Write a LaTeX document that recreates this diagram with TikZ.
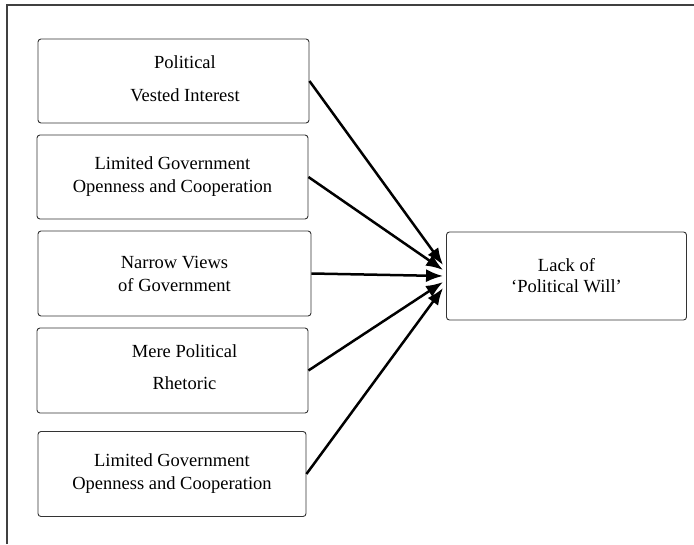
\documentclass[tikz,border=0pt]{standalone}
\usepackage{fontspec}
\setmainfont{Liberation Serif}
\usetikzlibrary{arrows.meta}
\begin{document}
\begin{tikzpicture}[x=1pt,y=-1pt,
  frameline/.style={draw=black!75,line width=1.6pt},
  causebox/.style={draw=black!80,line width=0.9pt,rounded corners=3pt,
    minimum width=271pt,minimum height=84pt,inner sep=0pt,align=center,
    font=\fontsize{18.5}{23}\selectfont},
  boxtext/.style={inner sep=0pt,align=center,font=\fontsize{18.5}{23}\selectfont},
  arr/.style={line width=2.5pt,-{Latex[length=17pt,width=13pt]}}]
\useasboundingbox (0,0) rectangle (694,544);
% open frame: top and left sides only
\draw[frameline] (7,544) -- (7,5) -- (694,5);
% cause boxes
\node[causebox] (b1) at (173.5,81) {};
\node[boxtext] (b1t) at (185,79) {Political\\[10pt]Vested Interest};
\node[causebox] (b2) at (172.5,177) {Limited Government\\Openness and Cooperation};
\node[causebox,minimum width=273pt,minimum height=85pt] (b3) at (174.5,273.5) {Narrow Views\\of Government};
\node[causebox,minimum height=85pt] (b4) at (172.5,370.5) {};
\node[boxtext] (b4t) at (184.5,367) {Mere Political\\[9pt]Rhetoric};
\node[causebox,minimum width=268pt,minimum height=85pt] (b5) at (172,474) {Limited Government\\Openness and Cooperation};
% effect box
\node[causebox,minimum width=240pt,minimum height=88pt,
  font=\fontsize{18.5}{21}\selectfont] (t) at (566.5,276) {Lack of\\`Political Will'};
% converging arrows
\draw[arr] (b1.east) -- ([shift={(-3,-11)}]t.west);
\draw[arr] (b2.east) -- ([shift={(-3,-6)}]t.west);
\draw[arr] (b3.east) -- ([shift={(-3,0)}]t.west);
\draw[arr] (b4.east) -- ([shift={(-3,6)}]t.west);
\draw[arr] (b5.east) -- ([shift={(-3,12)}]t.west);
\end{tikzpicture}
\end{document}
